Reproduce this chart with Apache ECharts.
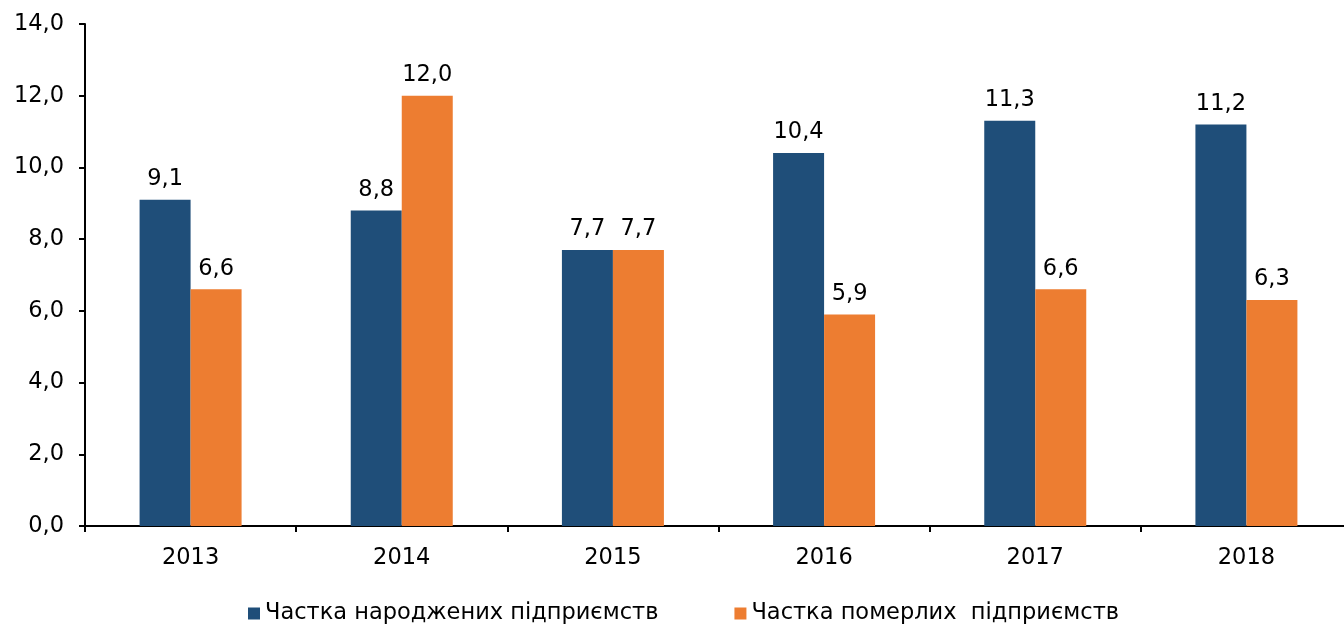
<!DOCTYPE html>
<html>
<head>
<meta charset="utf-8">
<script src="https://cdn.jsdelivr.net/npm/echarts@6/dist/echarts.min.js"></script>
<style>
  html, body { margin: 0; padding: 0; background: #fff; overflow: hidden; }
  #main { width: 1352px; height: 626px; }
</style>
</head>
<body>
<div id="main"></div>
<script>
// дані
var years = ['2013', '2014', '2015', '2016', '2017', '2018'];
var bornShare = [9.1, 8.8, 7.7, 10.4, 11.3, 11.2];
var deadShare = [6.6, 12.0, 7.7, 5.9, 6.6, 6.3];
var seriesNames = ['Частка народжених підприємств', 'Частка померлих  підприємств'];

var chart = echarts.init(document.getElementById('main'));

function fmt(v) {
  return v.toFixed(1).replace('.', ',');
}

var font = 'DejaVu Sans';
var fs = 22.5;

var option = {
  animation: false,
  grid: { left: 85, right: 0, top: 24, bottom: 100 },
  legend: {
    left: 243,
    top: 597,
    itemWidth: 12,
    itemHeight: 12,
    itemGap: 76,
    icon: 'rect',
    textStyle: { fontFamily: font, fontSize: fs, color: '#000' },
    data: seriesNames
  },
  xAxis: {
    type: 'category',
    data: years,
    axisLine: { lineStyle: { color: '#000', width: 2 } },
    axisTick: { show: true, length: 6, lineStyle: { color: '#000', width: 2 } },
    axisLabel: { fontFamily: font, fontSize: fs, color: '#000', margin: 21 }
  },
  yAxis: {
    type: 'value',
    min: 0,
    max: 14,
    interval: 2,
    axisLine: { show: true, lineStyle: { color: '#000', width: 2 } },
    axisTick: { show: true, length: 6, lineStyle: { color: '#000', width: 2 } },
    splitLine: { show: false },
    axisLabel: {
      fontFamily: font, fontSize: fs, color: '#000', margin: 21,
      formatter: function (v) { return fmt(v); }
    }
  },
  series: [
    {
      name: seriesNames[0],
      type: 'bar',
      data: bornShare,
      barWidth: 51,
      barGap: '0%',
      itemStyle: { color: '#1F4E79' },
      label: {
        show: true, position: 'top', distance: 9,
        fontFamily: font, fontSize: fs, color: '#000',
        formatter: function (p) { return fmt(p.value); }
      }
    },
    {
      name: seriesNames[1],
      type: 'bar',
      data: deadShare,
      barWidth: 51,
      itemStyle: { color: '#ED7D31' },
      label: {
        show: true, position: 'top', distance: 9,
        fontFamily: font, fontSize: fs, color: '#000',
        formatter: function (p) { return fmt(p.value); }
      }
    }
  ]
};

chart.setOption(option);
</script>
</body>
</html>
